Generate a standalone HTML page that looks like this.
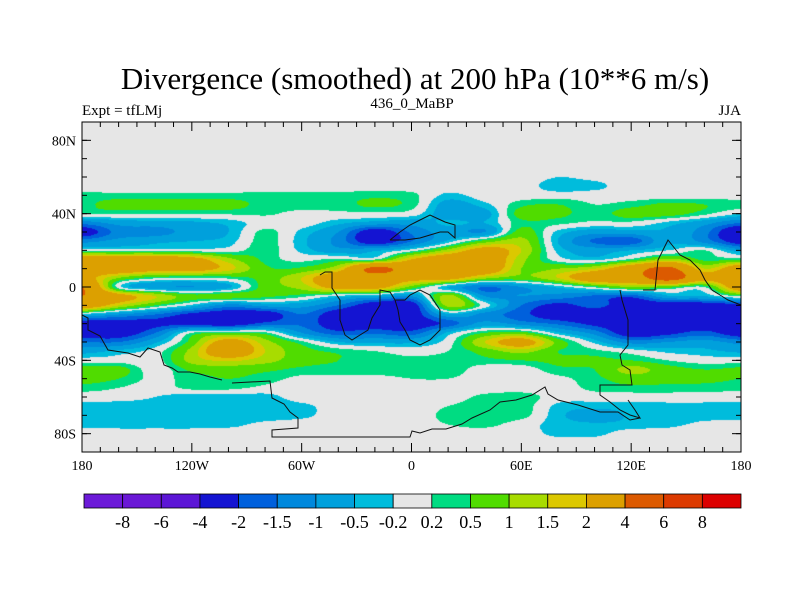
<!DOCTYPE html>
<html><head><meta charset="utf-8">
<style>
body{margin:0;background:#fff;}
#wrap{position:relative;width:800px;height:600px;overflow:hidden;background:#fff;font-family:"Liberation Serif",serif;color:#000;}
.t{position:absolute;white-space:nowrap;}
</style></head>
<body>
<div id="wrap">
<div class="t" style="left:0;width:830px;text-align:center;top:61px;font-size:31px;">Divergence (smoothed) at 200 hPa (10**6 m/s)</div>
<div class="t" style="left:82px;top:103px;font-size:15px;">Expt = tfLMj</div>
<div class="t" style="left:0;width:824px;text-align:center;top:96px;font-size:15px;">436_0_MaBP</div>
<div class="t" style="right:59px;top:103px;font-size:15px;">JJA</div>
<canvas id="map" width="659" height="330" style="position:absolute;left:82px;top:122px;"></canvas>
<svg id="ov" width="800" height="600" style="position:absolute;left:0;top:0;"></svg>
</div>
<script>
const lons=[-180,-160,-140,-120,-100,-80,-60,-40,-20,0,20,40,60,80,100,120,140,160,180];
const lats=[60,55,50,45,40,35,30,25,20,15,10,5,0,-5,-10,-15,-20,-25,-30,-35,-40,-45,-50,-55,-60,-65,-70,-75,-80,-85];
const field=[
[0,0,0,0,0,0,0,0,0,0,0,0,0,-0.2,-0.1,0,0,0,0],
[0,0,0,0,0,0,0,0,0,0,0,0,0,-0.4,-0.3,0,0,0,0],
[0.3,0.3,0.3,0.3,0.3,0.3,0.3,0.3,0.4,0.3,-0.3,0,0,0,0,0,0,0,0],
[0.4,0.7,0.7,0.7,0.7,0.35,0.35,0.35,0.6,0.35,-0.7,-0.3,0.4,0.5,0.2,0.35,0.6,0.5,0.35],
[0.25,0.25,0.25,0.25,0.25,0.25,0.1,0.1,0.1,0,-0.8,-0.7,0.7,0.6,0.35,0.7,0.7,0.3,-0.2],
[-1.3,-0.8,-0.7,-0.6,-0.4,0,0,-0.4,-0.7,-0.8,-0.4,-0.5,0.4,0.3,0.1,0.1,-0.3,-0.8,-1.5],
[-2.5,-1.3,-1.2,-0.8,-0.5,0.3,-0.3,-1.0,-2.5,-1.4,-0.8,-1.0,0.7,-0.3,-0.8,-0.7,-0.6,-1.3,-3],
[-1.2,-0.8,-0.6,-0.5,-0.35,0.35,-0.4,-1.2,-2.5,-1.5,-0.4,0.7,1.2,-0.5,-1.6,-1.8,-0.6,-1.2,-2.5],
[0,0,0,0,0,0.4,-0.3,-0.8,-0.6,0,1.2,2.5,1.5,-0.3,-0.7,-0.5,-0.2,0.2,-0.8],
[3,3,3,2.5,1.2,0.4,0.1,0.3,0.2,2,3,3,1.2,0,-0.3,0.3,1.2,0.4,0.5],
[3,3,2.5,2.5,1.7,0.6,0.6,1.5,4.5,3,3,3,1.0,1.0,1.5,3,4.5,1.5,3],
[2.5,1.0,0.3,0.2,0.3,0.7,1.5,3,3,2.5,2.5,1.2,0.8,1.5,3,3,5,2.5,3.5],
[4,0,-0.8,-1.0,-0.6,0.7,1.2,2.5,2.5,0.8,-0.5,-1.5,-1.0,-0.4,0.3,1.0,0.7,0.2,3],
[4,2.5,1.5,0.7,0.8,0.6,0.3,-0.3,-0.6,-1,1.2,-1.0,-1.0,-1.2,-1.6,-1.8,-0.6,-0.5,0.3],
[3,1.5,0.5,-0.3,-1.2,-0.8,-0.8,-1.5,-2.5,-2.5,1.2,0,-1.5,-2.2,-1.8,-2.5,-2.5,-2.5,-2.2],
[-0.4,-1.0,-1.5,-2.2,-2.5,-2.5,-1.5,-2.5,-2.5,-2.5,-0.6,-1.2,-1.8,-2.5,-2.5,-2.5,-2.5,-2.5,-2.5],
[-2.5,-2.5,-2.2,-2.2,-2.5,-1.8,-1.6,-2.5,-2.5,-2.5,-1.8,-0.8,-1.2,-1.6,-2.2,-2.5,-2.5,-2.5,-2.5],
[-2.5,-2.5,-1.5,0.2,0.5,0.3,-1.0,-1.8,-1.6,-1.8,-0.4,0.5,0.7,-0.4,-1.2,-2.5,-2.2,-1.8,-2.5],
[-1.5,-1.5,-0.6,0.7,2.5,1.2,0.3,-0.5,-0.6,-0.6,0,1.5,2.5,0.8,-0.3,-1.2,-1.0,-0.8,-1.2],
[-0.7,-0.4,0,1.2,3,1.5,0.7,0.4,0.2,0,0.2,0.7,1.2,0.5,0.3,0,-0.3,-0.4,-0.6],
[0,0,0,1.2,1.6,1.2,0.7,0.5,0.4,0.3,0.35,0.4,0.5,0.6,0.6,0.5,0.2,0,0],
[0.7,0.7,0,0.6,0.7,0.6,0.4,0.35,0.35,0.35,0.4,0,0,0.4,0.5,1.2,0.7,0.5,0.6],
[0.7,0.5,0.1,0.35,0.5,0.35,0.1,0.1,0.1,0.2,0.2,0,0,0.1,0.4,0.7,0.6,0.6,0.5],
[0.35,0.2,0,0.3,0.3,0.1,0,0,0,0.05,0,0,0,0,0.3,0.4,0.4,0.35,0.3],
[0,0,-0.2,-0.4,-0.35,-0.35,0,0,0,0,0,0.3,0.4,0,0,0,0,0,0],
[-0.35,-0.4,-0.4,-0.45,-0.4,-0.4,-0.3,0,0,0,0.2,0.4,0.4,-0.3,-0.4,-0.35,-0.3,-0.3,-0.35],
[-0.4,-0.4,-0.4,-0.4,-0.4,-0.4,-0.3,0,0,0,0.3,0.4,0.35,-0.4,-0.7,-0.45,-0.4,-0.35,-0.4],
[-0.3,-0.35,-0.35,-0.35,-0.3,-0.1,0,0,0,0,0.2,0.3,0,-0.35,-0.45,-0.4,-0.3,-0.1,0],
[0,0,0,0,0,0,0,0,0,0,0,0,0,-0.3,-0.3,0,0,0,0],
[0,0,0,0,0,0,0,0,0,0,0,0,0,0,0,0,0,0,0]
];
const levels=[-8,-6,-4,-2,-1.5,-1,-0.5,-0.2,0.2,0.5,1,1.5,2,4,6,8];
const levelLabels=["-8","-6","-4","-2","-1.5","-1","-0.5","-0.2","0.2","0.5","1","1.5","2","4","6","8"];
const colors=["#6c1ad8","#6a18d6","#5c16d6","#1414d2","#0060dc","#0088dc","#00a0dc","#00bcdc","#e6e6e6","#00dc82","#50dc00","#a8dc00","#dcc800","#dca000","#dc5a00","#dc3a00","#dc0000"];
const xTickVals=[-180,-120,-60,0,60,120,180];
const xTickLabels=["180","120W","60W","0","60E","120E","180"];
const yTickVals=[80,40,0,-40,-80];
const yTickLabels=["80N","40N","0","40S","80S"];

const X0=82,X1=741,Y0=122,Y1=452;
function xs(lon){return X0+(lon+180)/360*(X1-X0);}
function ys(lat){return Y0+(90-lat)/180*(Y1-Y0);}
function cr(p0,p1,p2,p3,t){return 0.5*((2*p1)+(-p0+p2)*t+(2*p0-5*p1+4*p2-p3)*t*t+(-p0+3*p1-3*p2+p3)*t*t*t);}
function g(j,i){j=Math.max(0,Math.min(lats.length-1,j));i=Math.max(0,Math.min(lons.length-1,i));return field[j][i];}
function sample(lon,lat){
  if(lat>lats[0]||lat<lats[lats.length-1])return 0;
  let fi=(lon-lons[0])/(lons[1]-lons[0]);let i=Math.min(Math.floor(fi),lons.length-2);let tx=fi-i;
  let fj=(lats[0]-lat)/(lats[0]-lats[1]);let j=Math.min(Math.floor(fj),lats.length-2);let ty=fj-j;
  const r=[];
  for(let k=-1;k<=2;k++)r.push(cr(g(j+k,i-1),g(j+k,i),g(j+k,i+1),g(j+k,i+2),tx));
  return cr(r[0],r[1],r[2],r[3],ty);
}
function colorFor(v){let k=0;while(k<levels.length&&v>=levels[k])k++;return colors[k];}
function hex(c){return [parseInt(c.substr(1,2),16),parseInt(c.substr(3,2),16),parseInt(c.substr(5,2),16)];}
const cv=document.getElementById('map');const ctx=cv.getContext('2d');
const W=cv.width,H=cv.height;const img=ctx.createImageData(W,H);
for(let py=0;py<H;py++){const lat=90-(py+0.5)/H*180;
 for(let px=0;px<W;px++){const lon=-180+(px+0.5)/W*360;
  const rgb=hex(colorFor(sample(lon,lat)));const o=(py*W+px)*4;
  img.data[o]=rgb[0];img.data[o+1]=rgb[1];img.data[o+2]=rgb[2];img.data[o+3]=255;}}
ctx.putImageData(img,0,0);

const NS='http://www.w3.org/2000/svg';const svg=document.getElementById('ov');
function mk(tag,attrs){const e=document.createElementNS(NS,tag);for(const k in attrs)e.setAttribute(k,attrs[k]);svg.appendChild(e);return e;}
const coasts=[
 "232,383 270,381 272,398 284,404 290,412 298,418 298,428 272,430 272,437 410,437 412,431 420,433 432,429 446,429 462,424 472,418 490,410 500,402 516,400 532,395 545,387 548,394 558,400 578,405 600,412 618,412 630,420 640,418",
 "82,315 88,318 88,330 100,336 108,350 128,353 140,357 148,348 160,352 164,365 172,368 178,372 190,372 200,374 210,377 222,380",
 "320,275 325,272 332,272 332,288 340,300 340,320 345,335 352,340 360,335 368,330 372,318 380,305 380,290 390,292 395,300 405,300 410,295 420,290 430,295 440,310 440,330 430,340 420,345 410,340 405,330 400,322 398,310 395,300",
 "390,240 400,232 410,225 420,220 430,215 445,222 455,225 455,238 448,232 440,232 430,235 420,238 405,240 390,240",
 "620,290 622,300 628,320 628,345 620,355 622,365 630,370 632,385 600,385 600,395 610,402 620,410 630,415 640,418 635,410 628,400",
 "643,290 655,290 658,260 668,240 672,245 680,255 690,260 700,270 705,280 712,290 720,295 728,300 741,305"
];
for(const c of coasts){const p=mk('polyline',{points:c,fill:'none',stroke:'#111','stroke-width':1});
 
 }
const fr=mk('rect',{x:X0,y:Y0,width:X1-X0,height:Y1-Y0,fill:'none',stroke:'#000','stroke-width':1});


for(let lon=-180;lon<=180;lon+=10){const x=xs(lon);const maj=(lon%60===0);const L=maj?9:5;
 mk('line',{x1:x,y1:Y1,x2:x,y2:Y1-L,stroke:'#000','stroke-width':1});
 mk('line',{x1:x,y1:Y0,x2:x,y2:Y0+L,stroke:'#000','stroke-width':1});}
for(let lat=-90;lat<=90;lat+=10){const y=ys(lat);
 mk('line',{x1:X0,y1:y,x2:X0+5,y2:y,stroke:'#000','stroke-width':1});
 mk('line',{x1:X1,y1:y,x2:X1-5,y2:y,stroke:'#000','stroke-width':1});}
for(let i=0;i<yTickVals.length;i++){const y=ys(yTickVals[i]);
 mk('line',{x1:X0,y1:y,x2:X0+9,y2:y,stroke:'#000','stroke-width':1});
 mk('line',{x1:X1,y1:y,x2:X1-9,y2:y,stroke:'#000','stroke-width':1});
 const t=mk('text',{x:X0-6,y:y+5,'text-anchor':'end','font-family':'Liberation Serif, serif','font-size':14});
 t.textContent=yTickLabels[i];
 
 }
for(let i=0;i<xTickVals.length;i++){const x=xs(xTickVals[i]);
 const t=mk('text',{x:x,y:470,'text-anchor':'middle','font-family':'Liberation Serif, serif','font-size':14});
 t.textContent=xTickLabels[i];
 
 }
const CB0=84,CB1=741,CBY=494,CBH=14;const bw=(CB1-CB0)/colors.length;
for(let k=0;k<colors.length;k++){const r=mk('rect',{x:CB0+k*bw,y:CBY,width:bw,height:CBH,fill:colors[k],stroke:'#000','stroke-width':0.8});
 
 }
for(let k=0;k<levelLabels.length;k++){const t=mk('text',{x:CB0+(k+1)*bw,y:528,'text-anchor':'middle','font-family':'Liberation Serif, serif','font-size':18});
 t.textContent=levelLabels[k];
 
 }
</script>
</body></html>
